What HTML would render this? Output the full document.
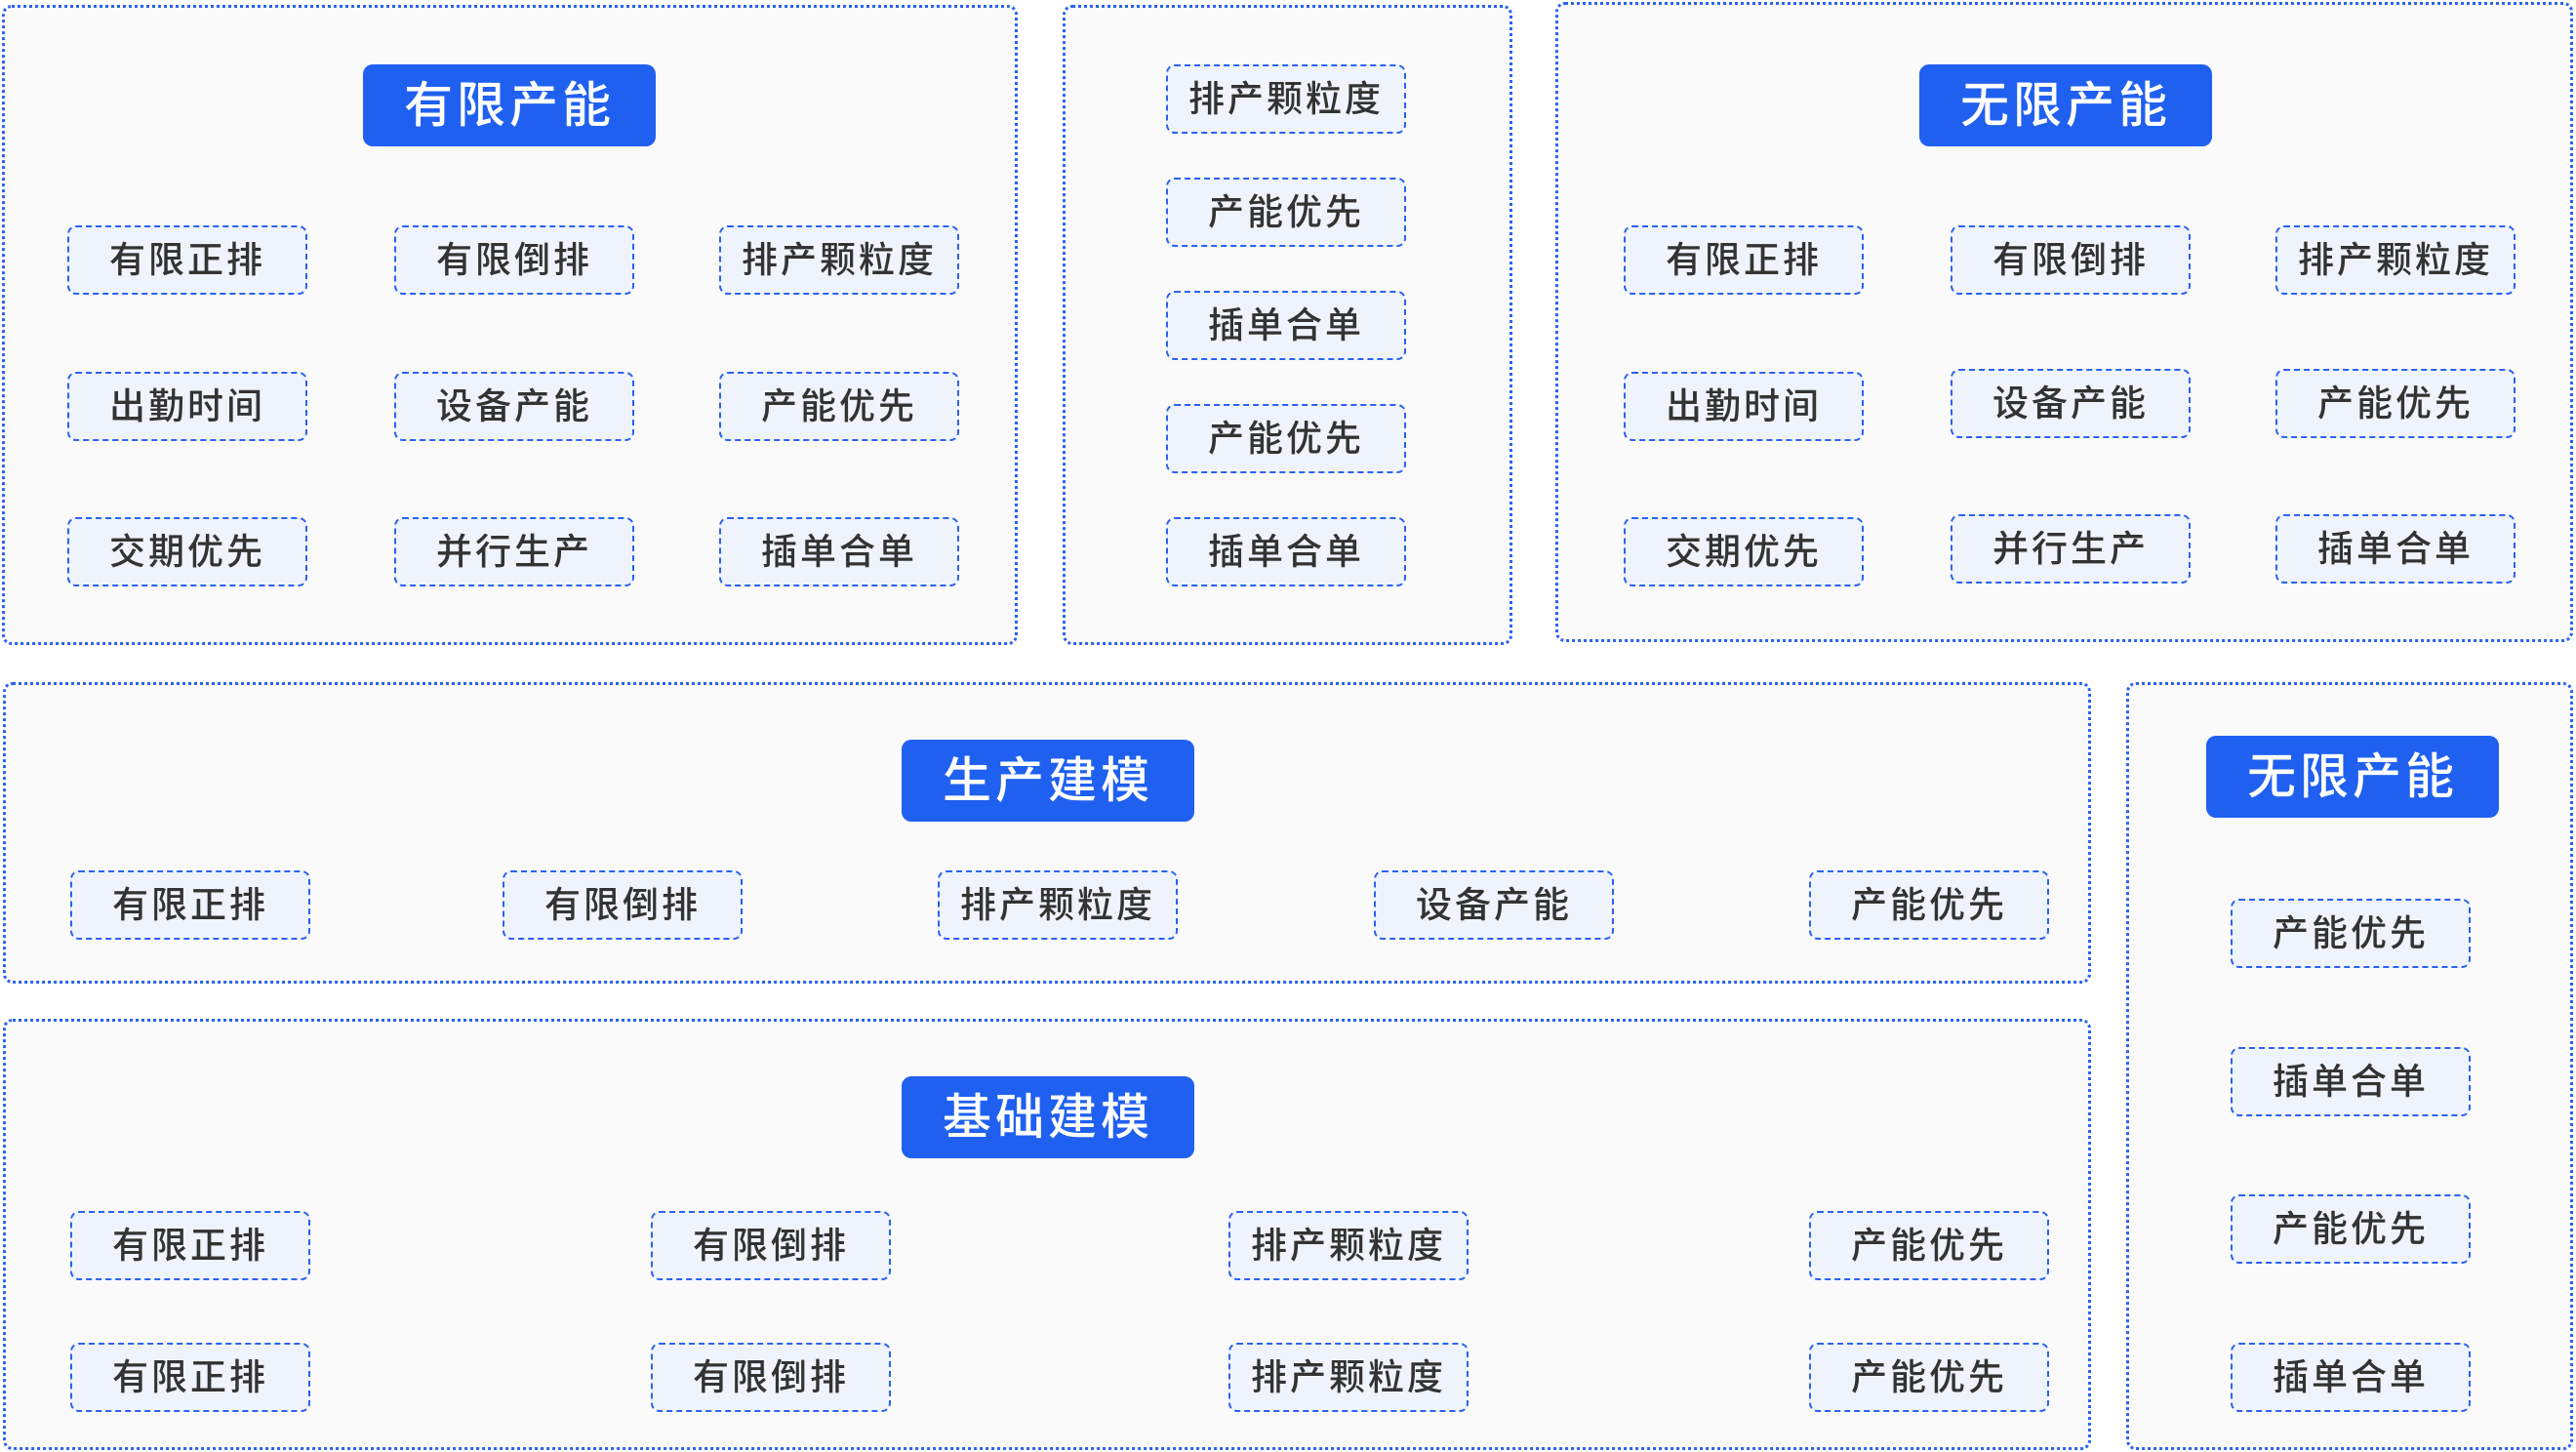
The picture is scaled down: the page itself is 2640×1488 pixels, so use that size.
<!DOCTYPE html>
<html><head><meta charset="utf-8"><style>
body{margin:0;width:2640px;height:1488px;background:#fff;position:relative;overflow:hidden;font-family:"Liberation Sans","Noto Sans CJK SC",sans-serif}
.o{position:absolute;box-sizing:border-box;border:3px dotted #2a62f0;border-radius:10px;background:#fafafa}
.t{position:absolute;width:300px;height:84px;background:#2060f0;color:#fff;border-radius:10px;font-size:50px;line-height:84px;text-align:center;letter-spacing:4px;font-weight:500}
.s{position:absolute;box-sizing:border-box;width:246px;height:71px;border:2.5px dashed #2a62f0;border-radius:9px;background:#eff3fb;color:#333;font-size:37px;line-height:67px;text-align:center;letter-spacing:3px;font-weight:500}
</style></head><body>
<div class="o" style="left:2px;top:5px;width:1041px;height:656px"></div>
<div class="o" style="left:1089px;top:5px;width:461px;height:656px"></div>
<div class="o" style="left:1594px;top:2px;width:1043px;height:656px"></div>
<div class="o" style="left:3px;top:699px;width:2140px;height:309px"></div>
<div class="o" style="left:3px;top:1044px;width:2140px;height:442px"></div>
<div class="o" style="left:2179px;top:699px;width:458px;height:787px"></div>

<div class="t" style="left:372px;top:66px">有限产能</div>
<div class="t" style="left:1967px;top:66px">无限产能</div>
<div class="t" style="left:924px;top:758px">生产建模</div>
<div class="t" style="left:924px;top:1103px">基础建模</div>
<div class="t" style="left:2261px;top:754px">无限产能</div>

<div class="s" style="left:69px;top:231px">有限正排</div>
<div class="s" style="left:404px;top:231px">有限倒排</div>
<div class="s" style="left:737px;top:231px">排产颗粒度</div>
<div class="s" style="left:69px;top:381px">出勤时间</div>
<div class="s" style="left:404px;top:381px">设备产能</div>
<div class="s" style="left:737px;top:381px">产能优先</div>
<div class="s" style="left:69px;top:530px">交期优先</div>
<div class="s" style="left:404px;top:530px">并行生产</div>
<div class="s" style="left:737px;top:530px">插单合单</div>

<div class="s" style="left:1195px;top:66px">排产颗粒度</div>
<div class="s" style="left:1195px;top:182px">产能优先</div>
<div class="s" style="left:1195px;top:298px">插单合单</div>
<div class="s" style="left:1195px;top:414px">产能优先</div>
<div class="s" style="left:1195px;top:530px">插单合单</div>

<div class="s" style="left:1664px;top:231px">有限正排</div>
<div class="s" style="left:1999px;top:231px">有限倒排</div>
<div class="s" style="left:2332px;top:231px">排产颗粒度</div>
<div class="s" style="left:1664px;top:381px">出勤时间</div>
<div class="s" style="left:1999px;top:378px">设备产能</div>
<div class="s" style="left:2332px;top:378px">产能优先</div>
<div class="s" style="left:1664px;top:530px">交期优先</div>
<div class="s" style="left:1999px;top:527px">并行生产</div>
<div class="s" style="left:2332px;top:527px">插单合单</div>

<div class="s" style="left:72px;top:892px">有限正排</div>
<div class="s" style="left:515px;top:892px">有限倒排</div>
<div class="s" style="left:961px;top:892px">排产颗粒度</div>
<div class="s" style="left:1408px;top:892px">设备产能</div>
<div class="s" style="left:1854px;top:892px">产能优先</div>

<div class="s" style="left:72px;top:1241px">有限正排</div>
<div class="s" style="left:667px;top:1241px">有限倒排</div>
<div class="s" style="left:1259px;top:1241px">排产颗粒度</div>
<div class="s" style="left:1854px;top:1241px">产能优先</div>
<div class="s" style="left:72px;top:1376px">有限正排</div>
<div class="s" style="left:667px;top:1376px">有限倒排</div>
<div class="s" style="left:1259px;top:1376px">排产颗粒度</div>
<div class="s" style="left:1854px;top:1376px">产能优先</div>

<div class="s" style="left:2286px;top:921px">产能优先</div>
<div class="s" style="left:2286px;top:1073px">插单合单</div>
<div class="s" style="left:2286px;top:1224px">产能优先</div>
<div class="s" style="left:2286px;top:1376px">插单合单</div>
</body></html>
